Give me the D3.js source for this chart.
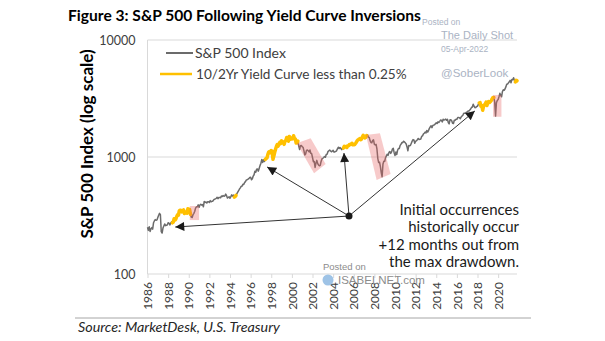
<!DOCTYPE html>
<html><head><meta charset="utf-8">
<script src="https://cdn.jsdelivr.net/npm/d3@7"></script>
<style>
html,body{margin:0;padding:0;background:#fff;}
svg{display:block;font-family:Lato,"Noto Sans",sans-serif;}
</style></head>
<body>
<svg id="c" width="605" height="341"></svg>
<script>
// ---------- DATA ----------
const title = "Figure 3: S&P 500 Following Yield Curve Inversions";
const yLabel = "S&P 500 Index (log scale)";
const sourceText = "Source: MarketDesk, U.S. Treasury";
const seriesNames = ["S&P 500 Index", "10/2Yr Yield Curve less than 0.25%"];
const yTicks = [100, 1000, 10000];
const xTicks = [1986,1988,1990,1992,1994,1996,1998,2000,2002,2004,2006,2008,2010,2012,2014,2016,2018,2020];
const startYear = 1986; // position of first monthly point on the axis
const spx = [
 251,236,253,231,244,249,242,
 274,284,292,288,290,304,318,330,322,230,224,247,
 257,268,259,261,262,274,272,262,272,279,274,278,
 297,289,295,310,321,318,346,351,349,340,346,353,
 329,332,340,331,361,358,356,323,306,304,322,330,
 344,367,375,375,390,371,388,395,388,392,375,417,
 409,413,404,415,415,408,424,414,418,419,431,436,
 439,443,452,440,450,451,448,464,459,468,462,466,
 482,467,446,451,457,444,458,475,463,472,454,459,
 470,487,501,515,533,545,562,562,584,582,605,616,
 636,640,646,654,669,671,640,652,687,705,757,741,
 786,791,757,801,848,885,954,899,947,915,955,970,
 980,1049,1101,1111,1091,1134,1120,957,1017,1098,1164,1229,
 1280,1238,1286,1335,1302,1373,1329,1320,1283,1363,1389,1469,
 1394,1366,1499,1452,1421,1455,1431,1518,1437,1429,1315,1320,
 1366,1240,1160,1249,1256,1224,1211,1134,1041,1060,1139,1148,
 1130,1107,1147,1077,1067,990,912,916,815,886,936,880,
 856,841,848,917,964,975,990,1008,996,1051,1058,1112,
 1131,1145,1126,1107,1121,1141,1102,1104,1115,1130,1174,1212,
 1181,1204,1181,1157,1192,1191,1234,1220,1229,1207,1249,1248,
 1280,1281,1295,1311,1270,1270,1277,1304,1336,1378,1401,1418,
 1438,1407,1421,1482,1531,1503,1455,1474,1527,1549,1481,1468,
 1379,1331,1323,1386,1400,1280,1267,1283,1166,969,896,903,
 826,735,677,873,919,919,987,1021,1057,1036,1096,1115,
 1074,1104,1169,1187,1089,1031,1102,1049,1141,1183,1181,1258,
 1286,1327,1326,1364,1345,1321,1292,1219,1131,1253,1247,1258,
 1312,1366,1408,1398,1310,1362,1379,1407,1441,1412,1416,1426,
 1498,1515,1569,1598,1631,1606,1686,1633,1682,1757,1806,1848,
 1783,1859,1872,1884,1924,1960,1931,2003,1972,2018,2068,2059,
 1995,2105,2068,2086,2107,2063,2104,1972,1920,2079,2080,2044,
 1940,1932,2060,2065,2097,2099,2174,2171,2168,2126,2199,2239,
 2279,2364,2363,2384,2412,2423,2470,2472,2519,2575,2648,2674,
 2824,2714,2641,2648,2705,2718,2816,2902,2914,2712,2760,2507,
 2704,2784,2834,2946,2752,2942,2980,2926,2977,3038,3141,3231,
 3226,2954,2237,2912,3044,3100,3271,3500,3363,3270,3622,3756,
 3714,3811,3973,4181,4204,4298,4395,4523,4308,4605,4567,4766,
 4516,4374,4530,4480
];
// periods where 10/2Yr curve < 0.25% (axis years)
const flatPeriods = [[1988.4,1990.2],[1994.4,1994.6],[1997.4,2000.6],[2005.0,2007.3],[2018.15,2019.65],[2021.6,2021.9]];
// highlighted drawdowns: corners as [year, index level]
const drawdownBoxes = [
 [[1990.1,381],[1991.0,381],[1991.0,289],[1990.1,289]],
 [[2000.47,1309],[2001.82,1445],[2003.27,871],[2002.15,726]],
 [[2007.18,1541],[2008.54,1594],[2009.57,716],[2008.22,635]],
 [[2019.5,3390],[2020.32,3390],[2020.32,2208],[2019.5,2208]]
];
const arrowOrigin = [2005.54, 313];
const arrowTargets = [[1988.69,252],[1997.6,822],[2005.05,1081],[2017.74,2472]];
const noteLines = ["Initial occurrences","historically occur","+12 months out from","the max drawdown."];

// ---------- CHART ----------
const svg = d3.select("#c");
const data = spx.map((v,i)=>({t:startYear + i/12, v}));
const x = d3.scaleLinear().domain([1986, 2021.83]).range([147.5, 517]);
const y = d3.scaleLog().domain([100, 10000]).range([274, 40]);

// title
svg.append("text").attr("x",68).attr("y",21).attr("font-size",15.6).attr("font-weight",700)
  .attr("fill","#000").text(title);

// gridlines
svg.append("g").selectAll("line").data(yTicks).join("line")
  .attr("x1",147.5).attr("x2",517).attr("y1",d=>y(d)).attr("y2",d=>y(d))
  .attr("stroke","#d9d9d9").attr("stroke-width",1);
svg.append("line").attr("x1",147.5).attr("x2",147.5).attr("y1",40).attr("y2",274)
  .attr("stroke","#d9d9d9");

// y axis labels
const yAxis = d3.axisLeft(y).tickValues(yTicks).tickFormat(d3.format("d")).tickSize(0).tickPadding(12);
const gy = svg.append("g").attr("transform","translate(147.5,0)").call(yAxis);
gy.select(".domain").remove();
gy.selectAll("text").attr("font-size",12.5).attr("fill","#404040").attr("font-family","Lato,sans-serif");

// x axis
const xAxis = d3.axisBottom(x).tickValues(xTicks).tickFormat(d3.format("d")).tickSize(4).tickPadding(4);
const gx = svg.append("g").attr("transform","translate(0,274)").call(xAxis);
gx.select(".domain").remove();
gx.selectAll(".tick line").attr("stroke","#d9d9d9");
gx.selectAll("text").attr("font-size",12).attr("fill","#404040").attr("font-family","Lato,sans-serif")
  .attr("transform","rotate(-90)").attr("text-anchor","end").attr("y",0).attr("x",-8).attr("dy","0.35em");

// y label
svg.append("text").attr("transform","translate(93,144) rotate(-90)").attr("text-anchor","middle")
  .attr("font-size",17).attr("font-weight",700).attr("fill","#000").text(yLabel);

// series line
const line = d3.line().x(d=>x(d.t)).y(d=>y(d.v));
svg.append("path").datum(data).attr("d",line).attr("fill","none").attr("stroke","#6b6b6b")
  .attr("stroke-width",1.5).attr("stroke-linejoin","round");
// flat curve segments
svg.append("g").selectAll("path").data(flatPeriods).join("path")
  .attr("d",p=>line(data.filter(d=>d.t>=p[0]-1e-6 && d.t<=p[1]+1e-6)))
  .attr("fill","none").attr("stroke","#ffc000").attr("stroke-width",3.5)
  .attr("stroke-linejoin","round").attr("stroke-linecap","round");

// drawdown boxes
svg.append("g").selectAll("polygon").data(drawdownBoxes).join("polygon")
  .attr("points",b=>b.map(c=>[x(c[0]),y(c[1])].join(",")).join(" "))
  .attr("fill","rgba(232,95,95,0.33)");

// arrows
const defs = svg.append("defs");
defs.append("marker").attr("id","ah").attr("viewBox","0 0 10 10").attr("refX",10).attr("refY",5)
  .attr("markerWidth",11).attr("markerHeight",9).attr("markerUnits","userSpaceOnUse").attr("orient","auto")
  .append("path").attr("d","M0,0L10,5L0,10Z").attr("fill","#1a1a1a");
svg.append("g").selectAll("line").data(arrowTargets).join("line")
  .attr("x1",x(arrowOrigin[0])).attr("y1",y(arrowOrigin[1]))
  .attr("x2",d=>x(d[0])).attr("y2",d=>y(d[1]))
  .attr("stroke","#333").attr("stroke-width",1).attr("marker-end","url(#ah)");
svg.append("circle").attr("cx",x(arrowOrigin[0])).attr("cy",y(arrowOrigin[1])).attr("r",3.5).attr("fill","#1a1a1a");

// annotation
svg.append("g").selectAll("text").data(noteLines).join("text")
  .attr("x",519).attr("y",(d,i)=>215+i*17.3).attr("text-anchor","end")
  .attr("font-size",15).attr("fill","#1a1a1a").text(d=>d);

// legend
const lg = svg.append("g");
lg.append("line").attr("x1",166).attr("x2",193).attr("y1",53).attr("y2",53).attr("stroke","#6b6b6b").attr("stroke-width",2);
lg.append("line").attr("x1",160).attr("x2",192).attr("y1",74).attr("y2",74).attr("stroke","#ffc000").attr("stroke-width",2.5);
lg.append("text").attr("x",195).attr("y",58).attr("font-size",14).attr("fill","#404040").text(seriesNames[0]);
lg.append("text").attr("x",196).attr("y",79).attr("font-size",13.6).attr("fill","#404040").text(seriesNames[1]);

// watermarks
const wm = svg.append("g").attr("fill","#aab3c3").attr("font-family","Arial,'Liberation Sans',sans-serif");
wm.append("text").attr("x",422).attr("y",25).attr("font-size",8.5).text("Posted on");
wm.append("text").attr("x",441).attr("y",39).attr("font-size",11).text("The Daily Shot");
wm.append("text").attr("x",441).attr("y",52).attr("font-size",8.5).text("05-Apr-2022");
wm.append("text").attr("x",441).attr("y",77).attr("font-size",11.5).text("@SoberLook");
const wm2 = svg.append("g").attr("fill","#8c8c8c").attr("font-family","Arial,'Liberation Sans',sans-serif");
wm2.append("text").attr("x",323).attr("y",270).attr("font-size",9.5).text("Posted on");
wm2.append("circle").attr("cx",328).attr("cy",280).attr("r",5.5).attr("fill","#9ec3e6");
wm2.append("text").attr("x",338).attr("y",284).attr("font-size",11.5).text("ISABELNET.com");

// bottom rule & source
svg.append("line").attr("x1",75).attr("x2",531).attr("y1",318).attr("y2",318).attr("stroke","#a6a6a6").attr("stroke-width",1);
svg.append("text").attr("x",78).attr("y",332).attr("font-size",14.3).attr("font-style","italic").attr("fill","#262626").text(sourceText);
</script>
</body></html>
